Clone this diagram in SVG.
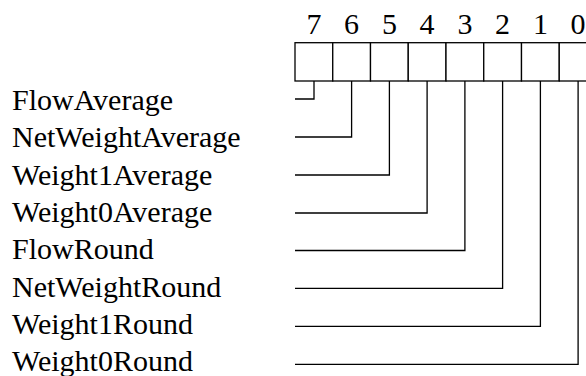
<svg xmlns="http://www.w3.org/2000/svg" width="586" height="376" viewBox="0 0 586 376">
<style>
text{font-family:"Liberation Serif","Times New Roman",serif;font-size:30px;fill:#000}
.d{text-anchor:middle}
.b{fill:#fff;stroke:#000;stroke-width:1.3}
.c{fill:none;stroke:#000;stroke-width:1.3}
</style>
<rect width="586" height="376" fill="#fff"/>
<g id="bits">
<g id="bit7"><rect class="b" x="295" y="42.7" width="37.75" height="38.3"/><text class="d" x="313.9" y="34">7</text></g>
<g id="bit6"><rect class="b" x="332.75" y="42.7" width="37.75" height="38.3"/><text class="d" x="351.6" y="34">6</text></g>
<g id="bit5"><rect class="b" x="370.5" y="42.7" width="37.75" height="38.3"/><text class="d" x="389.4" y="34">5</text></g>
<g id="bit4"><rect class="b" x="408.25" y="42.7" width="37.75" height="38.3"/><text class="d" x="427.1" y="34">4</text></g>
<g id="bit3"><rect class="b" x="446" y="42.7" width="37.75" height="38.3"/><text class="d" x="464.9" y="34">3</text></g>
<g id="bit2"><rect class="b" x="483.75" y="42.7" width="37.75" height="38.3"/><text class="d" x="502.6" y="34">2</text></g>
<g id="bit1"><rect class="b" x="521.5" y="42.7" width="37.75" height="38.3"/><text class="d" x="540.4" y="34">1</text></g>
<g id="bit0"><rect class="b" x="559.25" y="42.7" width="37.75" height="38.3"/><text class="d" x="578.1" y="34">0</text></g>
</g>
<g id="labels">
<g id="l7"><text x="12" y="110">FlowAverage</text></g>
<g id="l6"><text x="12" y="147.3">NetWeightAverage</text></g>
<g id="l5"><text x="12" y="184.6">Weight1Average</text></g>
<g id="l4"><text x="12" y="221.9">Weight0Average</text></g>
<g id="l3"><text x="12" y="259.2">FlowRound</text></g>
<g id="l2"><text x="12" y="296.5">NetWeightRound</text></g>
<g id="l1"><text x="12" y="333.8">Weight1Round</text></g>
<g id="l0"><text x="12" y="371.1">Weight0Round</text></g>
</g>
<g id="connectors">
<polyline class="c" points="295,99 314,99 314,81"/>
<polyline class="c" points="295,137 351.6,137 351.6,81"/>
<polyline class="c" points="295,175 389.4,175 389.4,81"/>
<polyline class="c" points="295,213 427.1,213 427.1,81"/>
<polyline class="c" points="295,250.5 464.9,250.5 464.9,81"/>
<polyline class="c" points="295,288.4 502.6,288.4 502.6,81"/>
<polyline class="c" points="295,326.3 540.4,326.3 540.4,81"/>
<polyline class="c" points="295,364.3 578.1,364.3 578.1,81"/>
</g>
</svg>
